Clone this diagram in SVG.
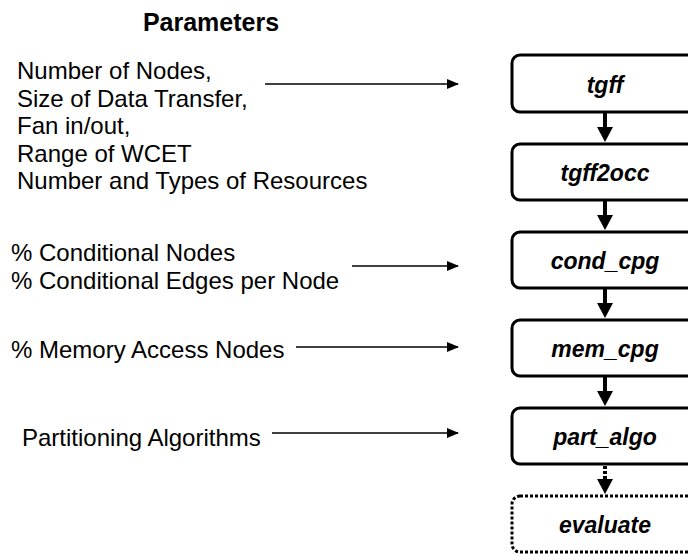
<svg xmlns="http://www.w3.org/2000/svg" width="688" height="554" viewBox="0 0 688 554">
  <style>
    .lbl { font-family: "Liberation Sans", Arial, sans-serif; font-size: 24px; fill: #000; }
    .title { font-family: "Liberation Sans", Arial, sans-serif; font-size: 25px; font-weight: bold; fill: #000; }
    .box { fill: #fff; stroke: #000; stroke-width: 3; }
    .box.dotted { stroke-dasharray: 3 2; }
    .name { font-family: "Liberation Sans", Arial, sans-serif; font-size: 23px; font-weight: bold; font-style: italic; text-anchor: middle; fill: #000; }
    .thin { stroke: #000; stroke-width: 1.3; fill: none; }
    .thick { stroke: #000; stroke-width: 4; fill: none; }
    .thick.dotted { stroke-dasharray: 3 2; }
  </style>
  <defs>
    <marker id="small" markerWidth="12" markerHeight="10" refX="11" refY="5" orient="auto" markerUnits="userSpaceOnUse">
      <path d="M0,0 L12,5 L0,10 Z" fill="#000"/>
    </marker>
  </defs>

  <text class="title" x="211" y="31" text-anchor="middle">Parameters</text>

  <g id="params">
    <text class="lbl" x="17" y="79">Number of Nodes,</text>
    <text class="lbl" x="17" y="106.5">Size of Data Transfer,</text>
    <text class="lbl" x="17" y="134">Fan in/out,</text>
    <text class="lbl" x="17" y="161.5">Range of WCET</text>
    <text class="lbl" x="17" y="189">Number and Types of Resources</text>
    <text class="lbl" x="11" y="261">% Conditional Nodes</text>
    <text class="lbl" x="11" y="289">% Conditional Edges per Node</text>
    <text class="lbl" x="11" y="358">% Memory Access Nodes</text>
    <text class="lbl" x="22" y="446">Partitioning Algorithms</text>
  </g>

  <g id="tgff">
    <rect class="box" x="512" y="55" width="190" height="57" rx="8"/>
    <text class="name" x="605" y="93">tgff</text>
  </g>
  <g id="tgff2occ">
    <rect class="box" x="512" y="144" width="190" height="56" rx="8"/>
    <text class="name" x="605" y="181">tgff2occ</text>
  </g>
  <g id="cond_cpg">
    <rect class="box" x="512" y="232" width="190" height="56" rx="8"/>
    <text class="name" x="605" y="269">cond_cpg</text>
  </g>
  <g id="mem_cpg">
    <rect class="box" x="512" y="320" width="190" height="56" rx="8"/>
    <text class="name" x="605" y="357">mem_cpg</text>
  </g>
  <g id="part_algo">
    <rect class="box" x="512" y="408" width="190" height="56" rx="8"/>
    <text class="name" x="605" y="445">part_algo</text>
  </g>
  <g id="evaluate">
    <rect class="box dotted" x="512" y="496" width="190" height="56" rx="8"/>
    <text class="name" x="605" y="533">evaluate</text>
  </g>

  <g id="connectors">
    <line class="thin" x1="265" y1="84" x2="458" y2="84" marker-end="url(#small)"/>
    <line class="thin" x1="352" y1="266" x2="458" y2="266" marker-end="url(#small)"/>
    <line class="thin" x1="296" y1="347" x2="458" y2="347" marker-end="url(#small)"/>
    <line class="thin" x1="272" y1="433" x2="458" y2="433" marker-end="url(#small)"/>

    <line class="thick" x1="605" y1="113" x2="605" y2="130"/>
    <path d="M597,127 L613,127 L605,142 Z" fill="#000"/>
    <line class="thick" x1="605" y1="201" x2="605" y2="218"/>
    <path d="M597,215 L613,215 L605,230 Z" fill="#000"/>
    <line class="thick" x1="605" y1="289" x2="605" y2="306"/>
    <path d="M597,303 L613,303 L605,318 Z" fill="#000"/>
    <line class="thick" x1="605" y1="377" x2="605" y2="394"/>
    <path d="M597,391 L613,391 L605,406 Z" fill="#000"/>
    <line class="thick dotted" x1="605" y1="466" x2="605" y2="482"/>
    <path d="M597,479 L613,479 L605,494 Z" fill="#000"/>
  </g>
</svg>
